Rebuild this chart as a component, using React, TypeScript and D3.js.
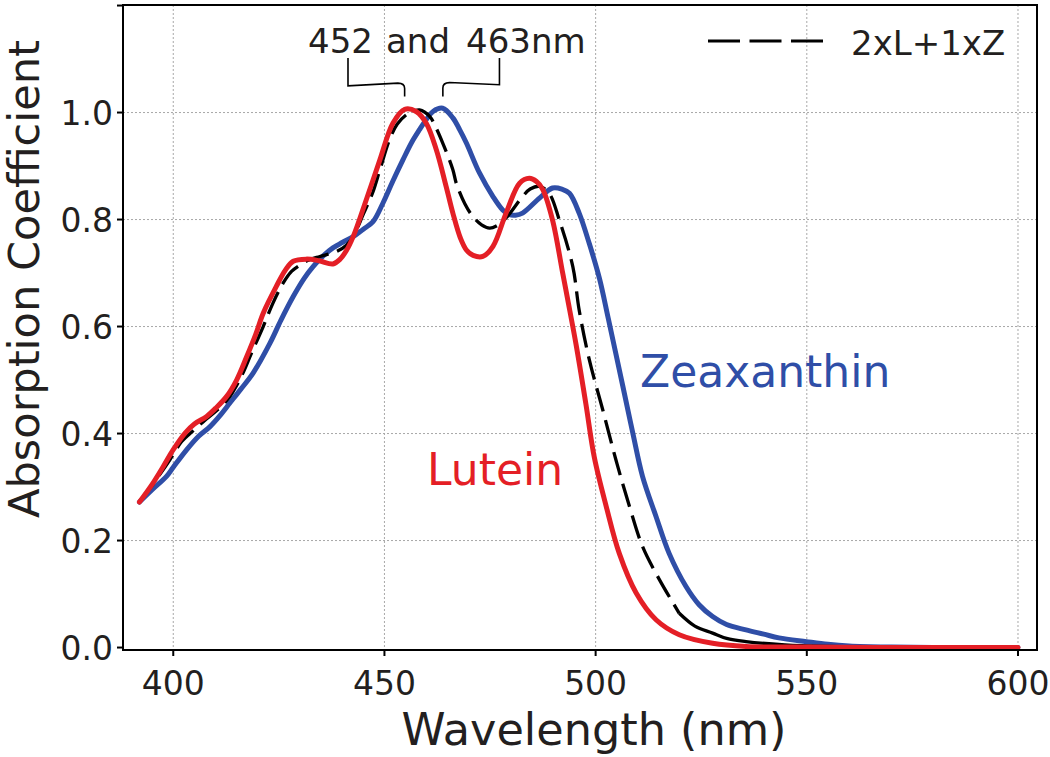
import React from "react";
import * as d3 from "d3";

// ---- Data ----
const luteinWl = [392, 395, 397.6, 400, 402.8, 405, 407.9, 410, 412.6, 415, 417.4, 419.5, 421.3, 424.4, 426.5, 428.4, 431.5, 434.5, 437.8, 439.4, 441, 442.6, 445.7, 448.9, 452, 454.8, 457.5, 459.9, 462.3, 464.6, 466.2, 468, 469.4, 471, 473.3, 475.7, 478.8, 482, 484.3, 486, 487.5, 489.8, 492.2, 493.4, 495.4, 497.7, 499.7, 502.5, 505.6, 509.6, 514.3, 519.8, 527.7, 535.6, 550, 575, 600];
const luteinAbs = [0.272, 0.305, 0.338, 0.37, 0.401, 0.418, 0.432, 0.447, 0.469, 0.5, 0.544, 0.585, 0.625, 0.675, 0.705, 0.722, 0.726, 0.723, 0.717, 0.725, 0.742, 0.768, 0.837, 0.911, 0.98, 1.006, 1.002, 0.98, 0.93, 0.862, 0.812, 0.765, 0.743, 0.733, 0.731, 0.75, 0.812, 0.868, 0.877, 0.871, 0.856, 0.799, 0.7, 0.65, 0.565, 0.455, 0.355, 0.264, 0.176, 0.102, 0.052, 0.024, 0.008, 0.002, 0.001, 0.0, 0.0];

const zeaWl = [392, 395, 398.4, 400, 403.2, 406, 408.7, 411, 413.4, 416, 418.9, 422.9, 425.5, 428.4, 431, 433.1, 435.5, 437.8, 440, 442.6, 445, 447.3, 449.6, 452, 454.4, 456.5, 458.3, 460, 461.5, 463.8, 466.2, 467.8, 469.4, 472.5, 475.7, 478, 479.6, 481, 482.7, 486.7, 489.8, 492, 493.8, 496.1, 498.5, 500.9, 503, 506.4, 508.8, 511.1, 514.3, 517.4, 521.4, 524.5, 527.7, 531, 535.6, 539.8, 543.4, 549.9, 555, 560, 570, 585, 600];
const zeaAbs = [0.272, 0.295, 0.32, 0.337, 0.37, 0.395, 0.413, 0.433, 0.457, 0.483, 0.513, 0.569, 0.612, 0.656, 0.69, 0.712, 0.732, 0.747, 0.757, 0.768, 0.782, 0.796, 0.83, 0.872, 0.912, 0.945, 0.968, 0.988, 1.002, 1.008, 0.99, 0.968, 0.943, 0.887, 0.843, 0.818, 0.809, 0.808, 0.812, 0.84, 0.859, 0.857, 0.849, 0.812, 0.755, 0.69, 0.615, 0.49, 0.401, 0.32, 0.245, 0.176, 0.114, 0.08, 0.058, 0.043, 0.033, 0.025, 0.018, 0.011, 0.006, 0.003, 0.001, 0.0, 0.0];

const mixWl = [392, 395, 399.2, 402, 404.7, 407.5, 410, 413, 416, 418.5, 421.3, 423.5, 426, 428, 430, 432, 434.7, 438.6, 441, 442.6, 445, 447.3, 449, 451.2, 453, 455.2, 457, 458.3, 460.7, 462, 463.8, 466.2, 467, 469, 470.9, 473, 474.9, 476.5, 478.8, 482.7, 484.5, 486.7, 489, 491.4, 494.6, 496.1, 498.5, 501.7, 504.8, 508, 511.1, 515.1, 519.8, 523.5, 527.7, 531, 535.6, 544.8, 555, 570, 600];
const mixAbs = [0.272, 0.303, 0.351, 0.385, 0.405, 0.425, 0.441, 0.465, 0.505, 0.55, 0.6, 0.642, 0.681, 0.703, 0.715, 0.724, 0.731, 0.74, 0.752, 0.768, 0.81, 0.852, 0.895, 0.949, 0.978, 0.996, 1.003, 1.005, 0.993, 0.975, 0.943, 0.893, 0.868, 0.83, 0.806, 0.79, 0.784, 0.788, 0.803, 0.843, 0.857, 0.862, 0.849, 0.799, 0.712, 0.631, 0.538, 0.444, 0.351, 0.264, 0.189, 0.127, 0.064, 0.04, 0.027, 0.017, 0.011, 0.005, 0.002, 0.0, 0.0];
const mixDashEnd = 519.8;

const xTicks = [400, 450, 500, 550, 600];
const yTicks = [0, 0.2, 0.4, 0.6, 0.8, 1.0];
const yTickUnlabeled = [1.2];

// Bracket annotation (data coordinates)
const bracketLeft: [number, number][] = [[441.37, 1.102], [441.37, 1.05], [453.2, 1.055]];
const bracketRight: [number, number][] = [[465.4, 1.056], [477.23, 1.052], [477.23, 1.102]];
const peakMarks = [454.78, 463.83];

const RED = "#e41f26";
const BLUE = "#2f4ea7";
const TXT = "#231f20";
const FONT = "DejaVu Sans";

export default function App() {
  const W = 1050, H = 757;
  const L = 123, R = 1037, T = 5, B = 650;
  const x = d3.scaleLinear().domain([388.1, 604.5]).range([L, R]);
  const y = d3.scaleLinear().domain([-0.0046, 1.201]).range([B, T]);

  const line = d3
    .line<[number, number]>()
    .x((d) => x(d[0]))
    .y((d) => y(d[1]))
    .curve(d3.curveCatmullRom.alpha(0.5));

  const zip = (a: number[], b: number[]) => a.map((v, i) => [v, b[i]] as [number, number]);
  const lut = zip(luteinWl, luteinAbs);
  const zea = zip(zeaWl, zeaAbs);
  const mix = zip(mixWl, mixAbs);
  const mixDashed = mix.filter((d) => d[0] <= mixDashEnd);
  const mixSolid = mix.filter((d) => d[0] >= mixDashEnd);

  const lb = bracketLeft.map(([a, b]) => [x(a), y(b)]);
  const rb = bracketRight.map(([a, b]) => [x(a), y(b)]);
  const pl = x(peakMarks[0]);
  const pr = x(peakMarks[1]);
  const leftPath = `M${lb[0][0]},${lb[0][1]}L${lb[1][0]},${lb[1][1]}L${lb[2][0]},${lb[2][1]}Q${pl},${y(1.055)} ${pl},${y(1.045)}L${pl},${y(1.03)}`;
  const rightPath = `M${pr},${y(1.03)}L${pr},${y(1.046)}Q${pr},${y(1.056)} ${rb[0][0]},${rb[0][1]}L${rb[1][0]},${rb[1][1]}L${rb[2][0]},${rb[2][1]}`;

  return (
    <svg width={W} height={H} style={{ position: "absolute", left: 0, top: 0, background: "#fff" }} fontFamily={FONT}>
      <rect x={0} y={0} width={W} height={H} fill="#fff" />
      {/* grid */}
      <g stroke="#a8a8a8" strokeWidth={1} strokeDasharray="2,2">
        {xTicks.map((t) => (
          <line key={"gx" + t} x1={x(t)} x2={x(t)} y1={T} y2={B} />
        ))}
        {yTicks.filter((t) => t > 0).map((t) => (
          <line key={"gy" + t} x1={L} x2={R} y1={y(t)} y2={y(t)} />
        ))}
      </g>
      {/* curves */}
      <path d={line(zea) || ""} fill="none" stroke={BLUE} strokeWidth={5} strokeLinejoin="round" strokeLinecap="round" />
      <path d={line(mixDashed) || ""} fill="none" stroke="#000" strokeWidth={3.3} strokeDasharray="24,9" />
      <path d={line(mixSolid) || ""} fill="none" stroke="#000" strokeWidth={3.3} />
      <path d={line(lut) || ""} fill="none" stroke={RED} strokeWidth={5} strokeLinejoin="round" strokeLinecap="round" />
      {/* frame */}
      <rect x={L} y={T} width={R - L} height={B - T} fill="none" stroke="#000" strokeWidth={2} />
      {/* ticks */}
      <g stroke="#000" strokeWidth={2}>
        {xTicks.map((t) => (
          <line key={"tx" + t} x1={x(t)} x2={x(t)} y1={B} y2={B + 6} />
        ))}
        {[...yTicks, ...yTickUnlabeled].map((t) => (
          <line key={"ty" + t} x1={L - 6} x2={L} y1={y(t)} y2={y(t)} />
        ))}
      </g>
      <g fill={TXT} fontSize={33}>
        {xTicks.map((t) => (
          <text key={"lx" + t} x={x(t)} y={695} textAnchor="middle">
            {t}
          </text>
        ))}
        {yTicks.map((t) => (
          <text key={"ly" + t} x={113} y={y(t) + 12} textAnchor="end">
            {t.toFixed(1)}
          </text>
        ))}
      </g>
      {/* axis titles */}
      <text x={594} y={745} textAnchor="middle" fontSize={45} fill={TXT} textLength={385} lengthAdjust="spacingAndGlyphs">
        Wavelength (nm)
      </text>
      <text
        transform={`translate(39,279) rotate(-90)`}
        textAnchor="middle"
        fontSize={42}
        fill={TXT}
        textLength={478}
        lengthAdjust="spacingAndGlyphs"
      >
        Absorption Coefficient
      </text>
      {/* annotation */}
      <text y={53} fontSize={34} fill={TXT}>
        <tspan x={308}>452</tspan>
        <tspan x={386}>and</tspan>
        <tspan x={466}>463nm</tspan>
      </text>
      <path d={leftPath} fill="none" stroke="#000" strokeWidth={1.6} />
      <path d={rightPath} fill="none" stroke="#000" strokeWidth={1.6} />
      {/* legend */}
      <line x1={708} x2={823} y1={41} y2={41} stroke="#000" strokeWidth={3} strokeDasharray="32,9.5" />
      <text x={851} y={55} fontSize={34} fill={TXT}>
        2xL+1xZ
      </text>
      {/* series labels */}
      <text x={640} y={387} fontSize={44} fill={BLUE}>
        Zeaxanthin
      </text>
      <text x={427} y={485} fontSize={44} fill={RED}>
        Lutein
      </text>
    </svg>
  );
}
